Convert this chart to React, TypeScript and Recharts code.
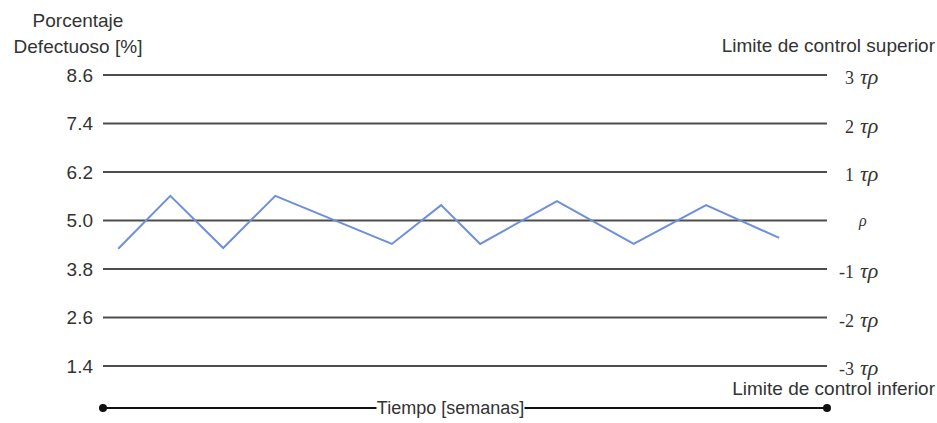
import { CartesianGrid, Label, Line, LineChart, XAxis, YAxis } from "recharts";

// semanas (escala relativa 0-100) y porcentaje defectuoso
const weeks = [2.1, 9.3, 16.6, 23.8, 39.9, 46.7, 52.1, 62.7, 73.3, 83.3, 93.4];
const defectPct = [4.3, 5.61, 4.32, 5.61, 4.42, 5.38, 4.42, 5.48, 4.42, 5.38, 4.57];
const limitTicks = [1.4, 2.6, 3.8, 5.0, 6.2, 7.4, 8.6];
const sigmaLabels = ["-3", "-2", "-1", "", "1", "2", "3"];

const chartData = weeks.map((w, i) => ({ week: w, pct: defectPct[i] }));

const SANS = "'Liberation Sans', Arial, Helvetica, sans-serif";
const SERIF = "'Liberation Serif', 'Times New Roman', serif";

function SigmaTick(props: any) {
  const { x, y, payload } = props;
  const n = sigmaLabels[limitTicks.indexOf(payload.value)];
  if (!n) {
    return (
      <text x={x + 24} y={y + 5} fontFamily={SERIF} fontStyle="italic" fontSize={16} fill="#333">
        ρ
      </text>
    );
  }
  return (
    <g>
      <text x={x + 19} y={y + 9} textAnchor="end" fontFamily={SERIF} fontSize={18} fill="#333">
        {n}
      </text>
      <text x={x + 25} y={y + 9} fontFamily={SERIF} fontStyle="italic" fontSize={22} fill="#333">
        τρ
      </text>
    </g>
  );
}

function YTitle(props: any) {
  const { viewBox } = props;
  const cx = viewBox.x + viewBox.width - 25;
  return (
    <g fontFamily={SANS} fontSize={19} fill="#333" textAnchor="middle">
      <text x={cx} y={27}>Porcentaje</text>
      <text x={cx} y={53}>Defectuoso [%]</text>
    </g>
  );
}

function LimitTitles(props: any) {
  const { viewBox } = props;
  const rx = viewBox.x + viewBox.width - 2;
  return (
    <g fontFamily={SANS} fontSize={19} fill="#333" textAnchor="end">
      <text x={rx} y={viewBox.y - 23}>Limite de control superior</text>
      <text x={rx} y={viewBox.y + viewBox.height + 29}>Limite de control inferior</text>
    </g>
  );
}

function TimeAxis(props: any) {
  const { viewBox } = props;
  const { x, y, width } = viewBox;
  const ly = y + 42;
  const tx = x + width * 0.48;
  return (
    <g>
      <line x1={x} x2={x + width} y1={ly} y2={ly} stroke="#111" strokeWidth={2} />
      <circle cx={x} cy={ly} r={4} fill="#111" />
      <circle cx={x + width} cy={ly} r={4} fill="#111" />
      <rect x={tx - 74} y={ly - 12} width={148} height={24} fill="#fff" />
      <text x={tx} y={ly + 6} textAnchor="middle" fontFamily={SANS} fontSize={18} fill="#333">
        Tiempo [semanas]
      </text>
    </g>
  );
}

export default function App() {
  return (
    <div style={{ position: "absolute", left: 0, top: 0, width: 937, height: 423, background: "#fff" }}>
      <LineChart width={937} height={423} data={chartData} margin={{ top: 75, right: 0, bottom: 7, left: 0 }}>
        <CartesianGrid yAxisId="left" vertical={false} stroke="#4d4d4d" strokeWidth={1.8} />
        <XAxis
          dataKey="week"
          type="number"
          domain={[0, 100]}
          height={50}
          tick={false}
          axisLine={false}
          tickLine={false}
        >
          <Label content={<TimeAxis />} />
        </XAxis>
        <YAxis
          yAxisId="left"
          orientation="left"
          width={103}
          domain={[1.4, 8.6]}
          ticks={limitTicks}
          interval={0}
          axisLine={false}
          tickLine={false}
          tickMargin={4}
          tick={{ fontSize: 19, fill: "#333", fontFamily: SANS }}
          tickFormatter={(v: number) => v.toFixed(1)}
        >
          <Label content={<YTitle />} />
        </YAxis>
        <YAxis
          yAxisId="right"
          orientation="right"
          width={110}
          domain={[1.4, 8.6]}
          ticks={limitTicks}
          interval={0}
          axisLine={false}
          tickLine={false}
          tick={<SigmaTick />}
        >
          <Label content={<LimitTitles />} />
        </YAxis>
        {/* serie invisible para activar el eje derecho */}
        <Line
          yAxisId="right"
          type="linear"
          dataKey="pct"
          stroke="none"
          dot={false}
          activeDot={false}
          isAnimationActive={false}
        />
        <Line
          yAxisId="left"
          type="linear"
          dataKey="pct"
          stroke="#6d8fdc"
          strokeWidth={2}
          dot={false}
          isAnimationActive={false}
        />
      </LineChart>
    </div>
  );
}
